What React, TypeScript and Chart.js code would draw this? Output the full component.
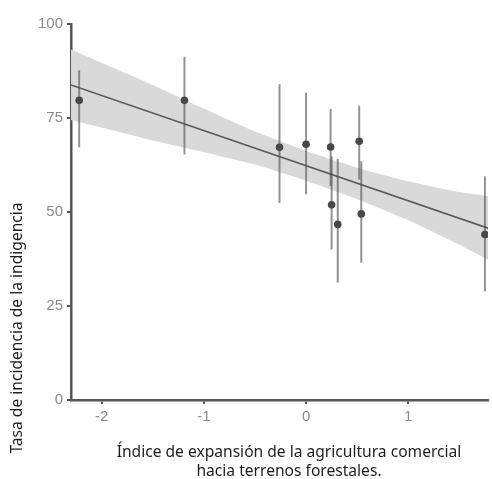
import { useEffect, useRef } from "react";
import { Chart, registerables } from "chart.js";

Chart.register(...registerables);

// Observed points with their interval bounds
const xValues = [-2.22, -1.19, -0.26, 0.0, 0.24, 0.25, 0.31, 0.52, 0.54, 1.75];
const yValues = [79.7, 79.7, 67.2, 68.0, 67.3, 51.9, 46.7, 68.8, 49.5, 44.0];
const yLow = [67.2, 65.3, 52.4, 54.7, 56.9, 40.0, 31.2, 58.6, 36.5, 28.9];
const yHigh = [87.7, 91.3, 84.0, 81.7, 77.4, 64.8, 64.1, 78.3, 63.5, 59.5];

// Fitted line
const fitX = [-2.3, 1.78];
const fitY = [83.8, 45.7];

// Confidence band
const bandX = [-2.3, -1.9, -1.5, -1.0, -0.5, 0, 0.5, 1.0, 1.5, 1.78];
const bandUpper = [93.2, 88.5, 83.8, 77.5, 71.4, 66.3, 61.8, 58.2, 55.3, 54.2];
const bandLower = [74.5, 71.8, 69.0, 65.9, 62.6, 58.3, 53.4, 47.8, 41.3, 37.3];

const xTicks = [-2, -1, 0, 1];
const yTicks = [0, 25, 50, 75, 100];
const yTitle = "Tasa de incidencia de la indigencia";
const xTitle = [
  "Índice de expansión de la agricultura comercial",
  "hacia terrenos forestales.",
];

const errorBarPlugin = {
  id: "errorBars",
  beforeDatasetDraw(chart: any, args: any) {
    if (args.index !== 0) return;
    const { ctx } = chart;
    const xs = chart.scales.x;
    const ys = chart.scales.y;
    ctx.save();
    ctx.strokeStyle = "rgba(80,80,80,0.62)";
    ctx.lineWidth = 2;
    for (let i = 0; i < xValues.length; i++) {
      const px = xs.getPixelForValue(xValues[i]);
      ctx.beginPath();
      ctx.moveTo(px, ys.getPixelForValue(yLow[i]));
      ctx.lineTo(px, ys.getPixelForValue(yHigh[i]));
      ctx.stroke();
    }
    ctx.restore();
  },
};

const titlesPlugin = {
  id: "titles",
  afterDraw(chart: any) {
    const { ctx } = chart;
    ctx.save();
    ctx.fillStyle = "#1e1e1e";
    ctx.font = "15.6px 'Noto Sans'";
    ctx.textAlign = "center";
    ctx.textBaseline = "middle";
    ctx.fillText(xTitle[0], 289, 453);
    ctx.fillText(xTitle[1], 289, 472);
    ctx.translate(18, 328);
    ctx.rotate(-Math.PI / 2);
    ctx.fillText(yTitle, 0, 0);
    ctx.restore();
  },
};

export default function App() {
  const ref = useRef<HTMLCanvasElement>(null);

  useEffect(() => {
    if (!ref.current) return;
    const chart = new Chart(ref.current, {
      type: "scatter",
      data: {
        datasets: [
          {
            label: "points",
            data: xValues.map((x, i) => ({ x, y: yValues[i] })),
            backgroundColor: "#484848",
            borderWidth: 0,
            pointRadius: 3.8,
            order: 0,
          },
          {
            label: "fit",
            data: fitX.map((x, i) => ({ x, y: fitY[i] })),
            showLine: true,
            borderColor: "#5a5a5a",
            borderWidth: 1.6,
            pointRadius: 0,
            order: 1,
          },
          {
            label: "upper",
            data: bandX.map((x, i) => ({ x, y: bandUpper[i] })),
            showLine: true,
            borderWidth: 0,
            borderColor: "rgba(0,0,0,0)",
            backgroundColor: "#d9d9d9",
            pointRadius: 0,
            fill: "+1",
            tension: 0.2,
            order: 2,
          },
          {
            label: "lower",
            data: bandX.map((x, i) => ({ x, y: bandLower[i] })),
            showLine: true,
            borderWidth: 0,
            borderColor: "rgba(0,0,0,0)",
            pointRadius: 0,
            fill: false,
            tension: 0.2,
            order: 3,
          },
        ],
      },
      options: {
        responsive: false,
        animation: false,
        layout: { padding: { top: 24, right: 1, bottom: 0, left: 0 } },
        plugins: {
          legend: { display: false },
          tooltip: { enabled: false },
        },
        scales: {
          x: {
            type: "linear",
            min: -2.3,
            max: 1.78,
            afterFit: (s: any) => {
              s.height = 79;
            },
            afterBuildTicks: (s: any) => {
              s.ticks = xTicks.map((v) => ({ value: v }));
            },
            ticks: {
              color: "#8a8a8a",
              font: { family: "'Liberation Sans', Arial", size: 15 },
              padding: 4,
              includeBounds: false,
            },
            grid: {
              display: true,
              drawOnChartArea: false,
              drawTicks: true,
              tickLength: 4,
              color: "#555",
              lineWidth: 2,
            },
            border: { display: true, color: "#555", width: 2.5 },
          },
          y: {
            type: "linear",
            min: 0,
            max: 100,
            afterFit: (s: any) => {
              s.width = 71;
            },
            afterBuildTicks: (s: any) => {
              s.ticks = yTicks.map((v) => ({ value: v }));
            },
            ticks: {
              color: "#8a8a8a",
              font: { family: "'Liberation Sans', Arial", size: 15 },
              padding: 4,
            },
            grid: {
              display: true,
              drawOnChartArea: false,
              drawTicks: true,
              tickLength: 4,
              color: "#555",
              lineWidth: 2,
            },
            border: { display: true, color: "#555", width: 2.5 },
          },
        },
      },
      plugins: [errorBarPlugin, titlesPlugin],
    });
    return () => chart.destroy();
  }, []);

  return (
    <div style={{ position: "fixed", left: 0, top: 0, width: 492, height: 479, background: "#fff" }}>
      <canvas ref={ref} width={492} height={479} style={{ width: 492, height: 479 }} />
    </div>
  );
}
